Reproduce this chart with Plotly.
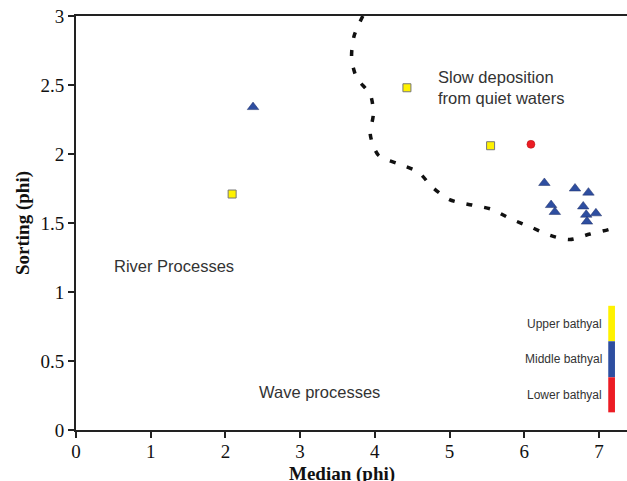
import plotly.graph_objects as go

# Data
upper_x = [2.09, 4.43, 5.55]
upper_y = [1.71, 2.48, 2.06]
middle_x = [2.37, 6.27, 6.68, 6.86, 6.36, 6.41, 6.79, 6.83, 6.96, 6.84]
middle_y = [2.34, 1.79, 1.75, 1.72, 1.63, 1.58, 1.62, 1.56, 1.57, 1.51]
lower_x = [6.09]
lower_y = [2.07]
curve_x = [3.84, 3.72, 3.69, 3.76, 3.94, 3.98, 3.94, 4.05, 4.31, 4.58, 4.77, 5.00, 5.30, 5.56, 5.82, 6.09, 6.35, 6.61, 6.88, 7.17, 7.22]
curve_y = [3.00, 2.85, 2.69, 2.55, 2.43, 2.29, 2.14, 1.99, 1.93, 1.87, 1.76, 1.67, 1.63, 1.60, 1.53, 1.47, 1.41, 1.38, 1.42, 1.46, 1.48]
zone_labels = ["Upper bathyal", "Middle bathyal", "Lower bathyal"]
zone_colors = ["#fff200", "#2e4ea0", "#ec1c24"]
zone_bounds = [0.90, 0.643, 0.382, 0.128]
x_ticks = [0, 1, 2, 3, 4, 5, 6, 7]
y_ticks = [0, 0.5, 1, 1.5, 2, 2.5, 3]

fig = go.Figure()
fig.add_trace(go.Scatter(x=curve_x, y=curve_y, mode="lines",
                         line=dict(color="#111", width=3.5, dash="6px,12px", shape="spline", smoothing=0.8),
                         hoverinfo="skip"))
fig.add_trace(go.Scatter(x=upper_x, y=upper_y, mode="markers",
                         marker=dict(symbol="square", size=8, color="#fff200", line=dict(color="#777", width=1))))
fig.add_trace(go.Scatter(x=middle_x, y=middle_y, mode="markers",
                         marker=dict(symbol="triangle-up", size=10, color="#2e4ea0", line=dict(color="#1e2f66", width=0.5))))
fig.add_trace(go.Scatter(x=lower_x, y=lower_y, mode="markers",
                         marker=dict(symbol="circle", size=8, color="#ec1c24", line=dict(color="#b01010", width=0.5))))

for i, (lab, col) in enumerate(zip(zone_labels, zone_colors)):
    y0, y1 = zone_bounds[i + 1], zone_bounds[i]
    fig.add_shape(type="rect", xref="x", yref="y", x0=7.125, x1=7.215, y0=y0, y1=y1,
                  fillcolor=col, line=dict(width=0))
    fig.add_annotation(x=7.07, y=(y0 + y1) / 2, text=lab, showarrow=False, xanchor="right",
                       font=dict(family="Liberation Sans, Arial", size=12, color="#333"))

text_font = dict(family="Liberation Sans, Arial", size=16.5, color="#333")
fig.add_annotation(x=4.82, y=2.48, text="Slow deposition<br>from quiet waters", showarrow=False,
                   xanchor="left", align="left", font=text_font)
fig.add_annotation(x=0.48, y=1.19, text="River Processes", showarrow=False, xanchor="left", font=text_font)
fig.add_annotation(x=2.42, y=0.275, text="Wave processes", showarrow=False, xanchor="left", font=text_font)

axis_font = dict(family="Liberation Serif, Times New Roman", size=19, color="#111")
tick_font = dict(family="Liberation Serif, Times New Roman", size=19, color="#111")
fig.add_annotation(xref="paper", yref="paper", x=0.482, y=-0.107, xanchor="center", yanchor="middle",
                   text="<b>Median (phi)</b>", showarrow=False, font=axis_font)
fig.update_xaxes(range=[0, 7.376], tickvals=x_ticks, ticks="outside", ticklen=6, tickwidth=2,
                 tickcolor="#222", showline=True, linecolor="#222", linewidth=2, mirror=True,
                 showgrid=False, zeroline=False, tickfont=tick_font, automargin=False,
                 ticklabelstandoff=-3)
fig.update_yaxes(range=[0, 3], tickvals=y_ticks, ticktext=["0", "0.5", "1", "1.5", "2", "2.5", "3"],
                 ticks="outside", ticklen=6, tickwidth=2,
                 tickcolor="#222", showline=True, linecolor="#222", linewidth=2,
                 showgrid=False, zeroline=False, tickfont=tick_font, automargin=False,
                 title=dict(text="<b>Sorting (phi)</b>", font=axis_font, standoff=6))
fig.update_layout(width=627, height=481, showlegend=False,
                  margin=dict(l=76, r=0, t=16, b=51),
                  plot_bgcolor="white", paper_bgcolor="white")
fig.write_html("out.html")
